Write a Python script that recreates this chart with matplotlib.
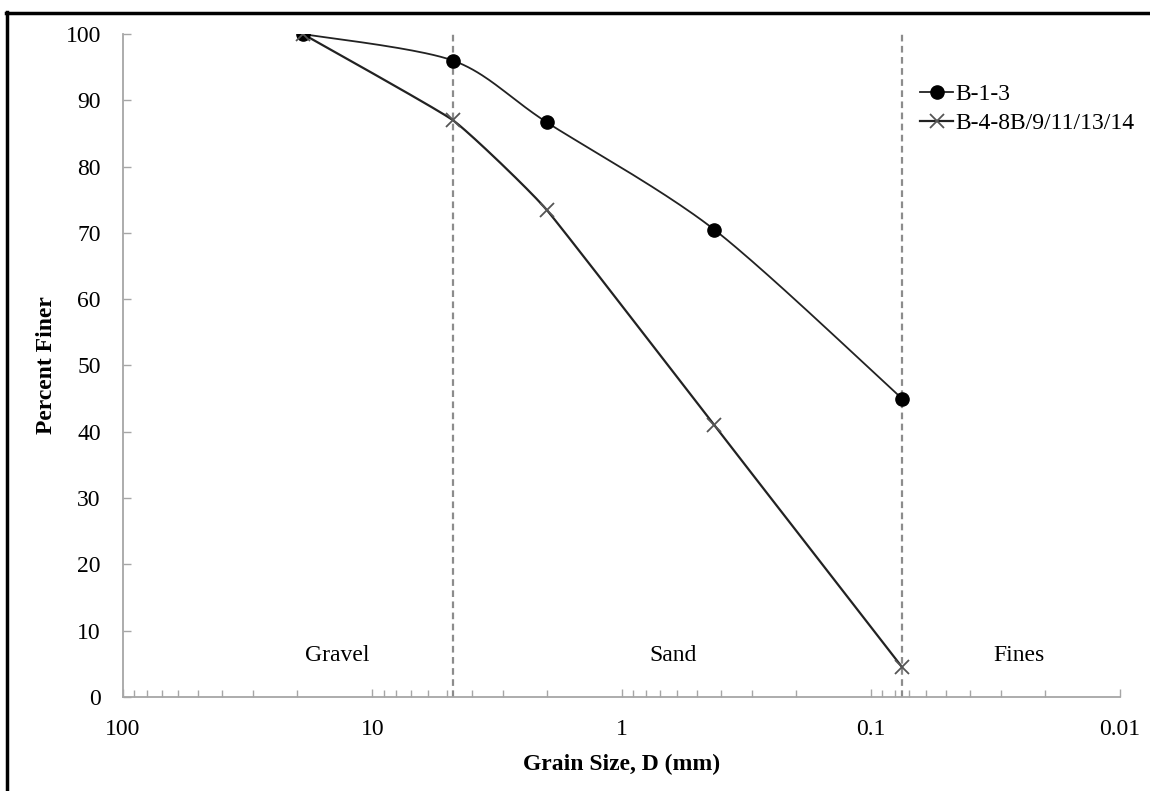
import numpy as np
import matplotlib
matplotlib.use("Agg")
import matplotlib.pyplot as plt
from matplotlib.ticker import FixedLocator, LogLocator, NullFormatter

plt.rcParams['font.family'] = ['Liberation Serif', 'DejaVu Serif']

# sieve sizes (mm) and percent finer
grain_size = [19.0, 4.75, 2.0, 0.425, 0.075]
b_1_3 = [100, 96, 86.7, 70.5, 45]
b_4_14 = [100, 87, 73.5, 41, 4.5]

boundaries = [4.75, 0.075]
zone_names = ['Gravel', 'Sand', 'Fines']
zone_x = [13.8, 0.62, 0.0254]
xticks = [100, 10, 1, 0.1, 0.01]
xtick_labels = ['100', '10', '1', '0.1', '0.01']


def smooth(xs, ys, k=1/9, n=40):
    # excel-like smoothed line in log-x space
    lx = np.log10(xs)
    pts = np.column_stack([lx, ys])
    pts = np.vstack([pts[0], pts, pts[-1]])
    out = []
    t = np.linspace(0, 1, n)
    for i in range(1, len(pts) - 2):
        p0, p1, p2, p3 = pts[i - 1], pts[i], pts[i + 1], pts[i + 2]
        c1 = p1 + (p2 - p0) * k
        c2 = p2 - (p3 - p1) * k
        seg = ((1 - t)**3)[:, None] * p1 + (3 * (1 - t)**2 * t)[:, None] * c1 \
            + (3 * (1 - t) * t**2)[:, None] * c2 + (t**3)[:, None] * p2
        out.append(seg)
    out = np.vstack(out)
    return 10**out[:, 0], out[:, 1]


fig = plt.figure(figsize=(11.5, 7.91), dpi=100)
ax = fig.add_axes([0.107, 0.119, 0.867, 0.838])

for b in boundaries:
    ax.axvline(b, color='#8c8c8c', ls=(0, (3, 2)), lw=1.6, zorder=1)

sx, sy = smooth(grain_size, b_1_3, k=1/7)
ax.plot(sx, sy, color='#222222', lw=1.3, zorder=2)
ax.plot(grain_size, b_1_3, ls='none', marker='o', ms=9.5, color='black', zorder=3)
sx, sy = smooth(grain_size, b_4_14, k=1/16)
ax.plot(sx, sy, color='#222222', lw=1.6, zorder=2)
ax.plot(grain_size, b_4_14, ls='none', marker='x', ms=10.5, mew=1.3, color='#555555', zorder=3)

# legend proxies
ax.plot([], [], color='#222222', lw=1.3, marker='o', ms=9.5, mfc='black', mec='black', label='B-1-3')
ax.plot([], [], color='#222222', lw=1.6, marker='x', ms=10.5, mew=1.3, mec='#555555', label='B-4-8B/9/11/13/14')
ax.legend(loc='upper left', bbox_to_anchor=(0.800, 0.894), bbox_transform=fig.transFigure,
          frameon=False, fontsize=17, handlelength=1.4, handletextpad=0.1, labelspacing=0.3,
          borderpad=0, borderaxespad=0)

for name, x in zip(zone_names, zone_x):
    ax.text(x, 6.3, name, ha='center', va='center', fontsize=17)

ax.set_xscale('log')
ax.set_xlim(100, 0.01)
ax.set_ylim(0, 100)
ax.xaxis.set_major_locator(FixedLocator(xticks))
ax.set_xticklabels(xtick_labels)
ax.xaxis.set_minor_locator(LogLocator(base=10, subs=np.arange(2, 10)))
ax.xaxis.set_minor_formatter(NullFormatter())
ax.set_yticks(range(0, 101, 10))

for s in ['top', 'right']:
    ax.spines[s].set_visible(False)
for s in ['left', 'bottom']:
    ax.spines[s].set_color('#a6a6a6')
    ax.spines[s].set_linewidth(1.3)

ax.tick_params(axis='y', direction='in', length=6, width=1, color='#a6a6a6', pad=16, labelsize=17)
ax.tick_params(axis='x', which='major', direction='in', length=6, width=1, color='#a6a6a6', pad=16, labelsize=17)
ax.tick_params(axis='x', which='minor', direction='in', length=5, width=1, color='#a6a6a6')

ax.set_xlabel('Grain Size, D (mm)', fontsize=17, fontweight='bold', labelpad=10)
ax.set_ylabel('Percent Finer', fontsize=17, fontweight='bold', labelpad=6)

# outer frame (left and top edges visible)
fig.add_artist(plt.Line2D([0.0065, 0.0065], [0, 0.985], transform=fig.transFigure, color='black', lw=2.5))
fig.add_artist(plt.Line2D([0.0055, 1], [0.984, 0.984], transform=fig.transFigure, color='black', lw=2.5))

fig.savefig('out.png', dpi=100)
